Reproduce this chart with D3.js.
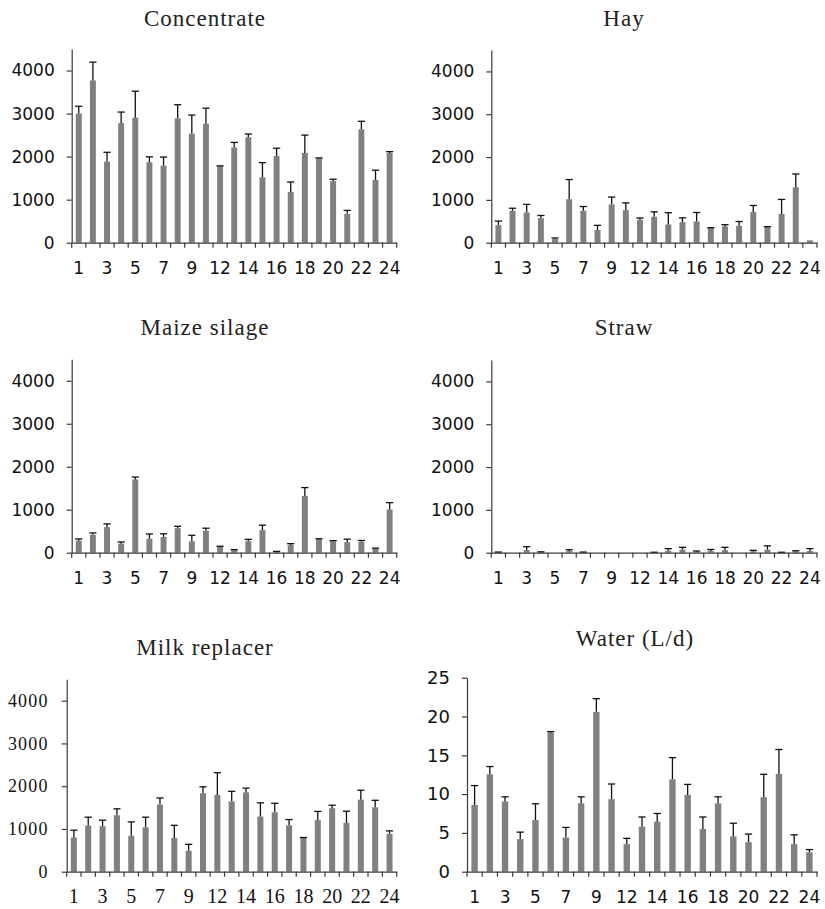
<!DOCTYPE html>
<html><head><meta charset="utf-8">
<script src="https://cdn.jsdelivr.net/npm/d3@7"></script>
<style>body{margin:0;background:#fff} svg{display:block}</style>
</head><body>
<svg id="c" width="825" height="909"></svg>
<script>
const categories = [1,2,3,4,5,6,7,8,9,10,12,13,14,15,16,17,18,19,20,21,22,23,24];

const concentrateMean = [3000,3770,1885,2780,2905,1870,1790,2890,2535,2765,1775,2215,2450,1520,2015,1180,2085,1960,1430,670,2635,1460,2085];
const concentrateSD   = [170,425,215,255,615,125,200,315,430,360,10,115,75,340,180,230,415,10,45,80,185,225,30];

const hayMean = [410,745,705,575,85,1015,745,295,895,760,530,605,425,480,495,340,380,395,715,365,670,1295,55];
const haySD   = [95,60,190,60,25,460,100,110,170,170,45,115,275,100,210,10,40,100,155,10,340,310,0];

const maizeMean = [280,415,595,210,1705,325,365,570,265,510,140,60,270,525,25,180,1320,315,265,245,255,95,1005];
const maizeSD   = [40,45,75,40,55,110,75,45,140,60,10,10,40,115,5,30,195,10,15,70,30,10,160];

const strawMean = [10,0,60,15,0,40,10,0,0,0,0,5,50,70,25,40,60,0,30,70,5,30,40];
const strawSD   = [5,0,80,5,0,30,5,0,0,0,0,5,45,55,15,35,65,0,25,90,5,15,55];

const milkMean = [800,1080,1065,1320,840,1040,1570,790,490,1835,1795,1645,1855,1290,1390,1085,790,1210,1485,1140,1685,1505,885];
const milkSD   = [170,195,140,150,325,235,155,295,150,150,520,235,100,320,210,135,10,200,70,275,220,165,70];

const waterMean = [8.6,12.55,9.05,4.2,6.65,17.95,4.4,8.8,20.6,9.35,3.55,5.8,6.45,11.9,9.9,5.5,8.8,4.55,3.8,9.6,12.6,3.55,2.5];
const waterSD   = [2.5,1.0,0.6,0.9,2.1,0.1,1.3,0.85,1.7,1.95,0.75,1.25,1.05,2.8,1.35,1.55,0.85,1.7,1.05,2.95,3.15,1.2,0.35];

const feedTicks = [0,1000,2000,3000,4000];
const waterTicks = [0,5,10,15,20,25];

const titles = ["Concentrate","Hay","Maize silage","Straw","Milk replacer","Water (L/d)"];

const panels = [
  {title:titles[0], mean:concentrateMean, sd:concentrateSD, ticks:feedTicks, max:4500, x0:71.7, x1:396.7, yb:242.7, yt:49,    tx:205, ty:25.5, serif:false},
  {title:titles[1], mean:hayMean,         sd:haySD,         ticks:feedTicks, max:4500, x0:491.3, x1:817,  yb:242.7, yt:50,    tx:624, ty:25.5, serif:false},
  {title:titles[2], mean:maizeMean,       sd:maizeSD,       ticks:feedTicks, max:4500, x0:71.7, x1:396.7, yb:552.7, yt:359.3, tx:205, ty:335,  serif:false},
  {title:titles[3], mean:strawMean,       sd:strawSD,       ticks:feedTicks, max:4500, x0:491.3, x1:817,  yb:552.7, yt:360,   tx:624, ty:335,  serif:false},
  {title:titles[4], mean:milkMean,        sd:milkSD,        ticks:feedTicks, max:4500, x0:66.7, x1:396.7, yb:871.7, yt:679.3, tx:205, ty:655,  serif:true},
  {title:titles[5], mean:waterMean,       sd:waterSD,       ticks:waterTicks, max:25,  x0:467,  x1:817,   yb:871.7, yt:677.7, tx:635, ty:646,  serif:false}
];

const svg = d3.select("#c");
const axisColor = "#3a3a3a";

panels.forEach(p => {
  const g = svg.append("g");
  const x = d3.scaleBand().domain(categories).range([p.x0, p.x1]).paddingInner(0.58).paddingOuter(0.29);
  const y = d3.scaleLinear().domain([0, p.max]).range([p.yb, p.yt]);

  // title
  g.append("text")
    .attr("x", p.tx).attr("y", p.ty)
    .attr("text-anchor", "middle")
    .attr("font-family", "Liberation Serif")
    .attr("font-size", 23)
    .attr("letter-spacing", 1)
    .attr("fill", "#222")
    .text(p.title);

  // bars
  g.append("g").selectAll("rect").data(categories).join("rect")
    .attr("x", d => x(d))
    .attr("width", x.bandwidth())
    .attr("y", (d, i) => y(p.mean[i]))
    .attr("height", (d, i) => y(0) - y(p.mean[i]))
    .attr("fill", "#808080");

  // error bars
  const eb = g.append("g").attr("stroke", "#111").attr("stroke-width", 1.3);
  categories.forEach((c, i) => {
    if (p.sd[i] <= 0) return;
    const cx = x(c) + x.bandwidth() / 2;
    const y1 = y(p.mean[i]), y2 = y(p.mean[i] + p.sd[i]);
    eb.append("line").attr("x1", cx).attr("x2", cx).attr("y1", y1).attr("y2", y2);
    eb.append("line").attr("x1", cx - 3.6).attr("x2", cx + 3.6).attr("y1", y2).attr("y2", y2);
  });

  const fontFam = p.serif ? "Liberation Serif" : "DejaVu Sans";

  // y axis
  const ya = g.append("g").attr("transform", `translate(${p.x0},0)`)
    .call(d3.axisLeft(y).tickValues(p.ticks).tickFormat(d3.format("d"))
      .tickSize(5).tickSizeOuter(0).tickPadding(p.serif ? 13 : 12));
  ya.attr("font-family", fontFam).attr("font-size", p.serif ? 18 : (p.max === 25 ? 18 : 17));
  ya.selectAll("text")
    .attr("letter-spacing", p.serif ? 1.2 : 0)
    .attr("fill", "#111");

  // x axis labels (every other category)
  const xa = g.append("g").attr("transform", `translate(0,${p.yb})`)
    .call(d3.axisBottom(x).tickSize(0).tickSizeOuter(0).tickPadding(p.serif ? 17 : 19)
      .tickFormat((d, i) => i % 2 === 0 ? d : ""));
  xa.attr("font-family", fontFam).attr("font-size", p.serif ? 20 : 17);
  xa.selectAll("text").attr("fill", "#111");

  // x tick marks at category boundaries
  const half = (x.step() - x.bandwidth()) / 2;
  const bounds = categories.map(c => x(c) - half).concat([p.x1]);
  xa.append("g").selectAll("line").data(bounds).join("line")
    .attr("x1", d => d).attr("x2", d => d)
    .attr("y1", 0).attr("y2", 5)
    .attr("stroke", axisColor).attr("stroke-width", 1.2);

  g.selectAll(".domain, .tick line").attr("stroke", axisColor).attr("stroke-width", 1.2);
});
</script>
</body></html>
